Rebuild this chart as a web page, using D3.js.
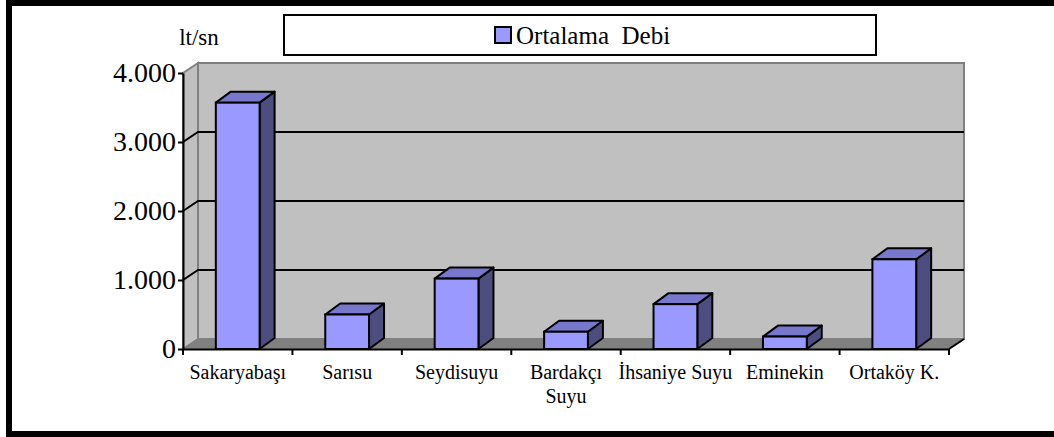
<!DOCTYPE html>
<html>
<head>
<meta charset="utf-8">
<script src="https://cdn.jsdelivr.net/npm/d3@7"></script>
<style>
  body { margin: 0; background: #fff; }
  svg text { font-family: "Liberation Serif", "DejaVu Serif", serif; fill: #000; }
</style>
</head>
<body>
<svg id="chart" width="1054" height="437"></svg>
<script>
var categories = ['Sakaryabaşı', 'Sarısu', 'Seydisuyu', 'Bardakçı\nSuyu', 'İhsaniye Suyu', 'Eminekin', 'Ortaköy K.'];
var debi = [3570, 500, 1020, 250, 650, 180, 1300];
var yTicks = [0, 1000, 2000, 3000, 4000];
var seriesName = 'Ortalama  Debi';
var unitLabel = 'lt/sn';

var svg = d3.select('#chart');

// 3d depth offsets
var wallDx = 15, wallDy = -10;
var barDx = 15, barDy = -11;

var x = d3.scaleBand()
    .domain(categories)
    .range([183, 949]);
var y = d3.scaleLinear()
    .domain([0, 4000])
    .range([349, 73]);

var fmt = d3.formatLocale({decimal: ',', thousands: '.', grouping: [3], currency: ['', '']}).format(',');

// outer frame
svg.append('rect')
    .attr('x', 9).attr('y', 3)
    .attr('width', 1080).attr('height', 431)
    .attr('fill', 'none')
    .attr('stroke', '#000')
    .attr('stroke-width', 6);

var x0 = x.range()[0], x1 = x.range()[1];
var yTop = y(4000), yBase = y(0);

// side wall
svg.append('path')
    .attr('d', 'M' + x0 + ',' + yBase + 'L' + x0 + ',' + yTop + 'L' + (x0 + wallDx) + ',' + (yTop + wallDy) +
      'L' + (x0 + wallDx) + ',' + (yBase + wallDy) + 'Z')
    .attr('fill', '#c0c0c0')
    .attr('stroke', '#808080')
    .attr('stroke-width', 2);

// back wall
svg.append('rect')
    .attr('x', x0 + wallDx).attr('y', yTop + wallDy)
    .attr('width', x1 - x0).attr('height', yBase - yTop)
    .attr('fill', '#c0c0c0')
    .attr('stroke', '#808080')
    .attr('stroke-width', 2);

// floor
svg.append('path')
    .attr('d', 'M' + x0 + ',' + yBase + 'L' + (x0 + wallDx) + ',' + (yBase + wallDy) + 'L' + (x1 + wallDx) + ',' + (yBase + wallDy) +
      'L' + x1 + ',' + yBase + 'Z')
    .attr('fill', '#808080')
    .attr('stroke', '#808080')
    .attr('stroke-width', 1);
svg.append('line')
    .attr('x1', x1).attr('y1', yBase)
    .attr('x2', x1 + wallDx).attr('y2', yBase + wallDy)
    .attr('stroke', '#000').attr('stroke-width', 2);

// gridlines (back wall + side wall diagonal)
var grid = svg.append('g');
yTicks.filter(function(t) { return t > 0 && t < 4000; }).forEach(function(t) {
  grid.append('path')
      .attr('d', 'M' + x0 + ',' + y(t) + 'L' + (x0 + wallDx) + ',' + (y(t) + wallDy) + 'L' + (x1 + wallDx) + ',' + (y(t) + wallDy))
      .attr('fill', 'none')
      .attr('stroke', '#000')
      .attr('stroke-width', 2);
});

// bars
var bars = svg.append('g').selectAll('g')
  .data(categories).enter()
  .append('g');

bars.each(function(c, i) {
  var g = d3.select(this);
  var bw = x.bandwidth() * 0.4;
  var bx = x(c) + x.bandwidth() * 0.3;
  var by = y(debi[i]);
  var b0 = y(0);
  // side
  g.append('path')
    .attr('d', 'M' + (bx + bw) + ',' + b0 + 'L' + (bx + bw) + ',' + by + 'L' + (bx + bw + barDx) + ',' + (by + barDy) +
      'L' + (bx + bw + barDx) + ',' + (b0 + barDy) + 'Z')
    .attr('fill', '#4d4d80').attr('stroke', '#000').attr('stroke-width', 2).attr('stroke-linejoin', 'round');
  // top
  g.append('path')
    .attr('d', 'M' + bx + ',' + by + 'L' + (bx + barDx) + ',' + (by + barDy) + 'L' + (bx + bw + barDx) + ',' + (by + barDy) +
      'L' + (bx + bw) + ',' + by + 'Z')
    .attr('fill', '#7777cc').attr('stroke', '#000').attr('stroke-width', 2).attr('stroke-linejoin', 'round');
  // front
  g.append('rect')
    .attr('x', bx).attr('y', by)
    .attr('width', bw).attr('height', b0 - by)
    .attr('fill', '#9999ff').attr('stroke', '#000').attr('stroke-width', 2);
});

// y axis
var yAxis = svg.append('g')
    .attr('transform', 'translate(' + x0 + ',0)')
    .call(d3.axisLeft(y).tickValues(yTicks).tickFormat(fmt).tickSize(5).tickSizeOuter(0).tickPadding(2));
yAxis.attr('font-family', null);
yAxis.select('.domain').attr('stroke', '#000').attr('stroke-width', 2);
yAxis.selectAll('.tick line').attr('stroke', '#000').attr('stroke-width', 2);
yAxis.selectAll('.tick text')
    .attr('font-size', 28)
    .attr('fill', '#000');

// x axis
var xAxis = svg.append('g')
    .attr('transform', 'translate(0,' + yBase + ')')
    .call(d3.axisBottom(x).tickSize(0).tickSizeOuter(0).tickPadding(16));
xAxis.attr('font-family', null);
xAxis.select('.domain').attr('stroke', '#000').attr('stroke-width', 2);
xAxis.selectAll('.tick text')
    .attr('font-size', 20)
    .attr('fill', '#000')
    .each(function(d) {
      var t = d3.select(this);
      var lines = d.split('\n');
      t.text(null);
      lines.forEach(function(l, k) {
        t.append('tspan').attr('x', 0).attr('dy', k === 0 ? '0.71em' : '1.2em').text(l);
      });
    });
categories.concat([null]).forEach(function(c) {
  var tx = c === null ? x1 : x(c);
  xAxis.append('line')
    .attr('x1', tx).attr('x2', tx)
    .attr('y1', 0).attr('y2', 6)
    .attr('stroke', '#000').attr('stroke-width', 2);
});

// unit label
svg.append('text')
    .attr('x', 199).attr('y', 45)
    .attr('text-anchor', 'middle')
    .attr('font-size', 23)
    .text(unitLabel);

// legend
var legend = svg.append('g');
legend.append('rect')
    .attr('x', 284).attr('y', 15)
    .attr('width', 592).attr('height', 40)
    .attr('fill', '#fff')
    .attr('stroke', '#000')
    .attr('stroke-width', 2);
legend.append('rect')
    .attr('x', 495).attr('y', 27)
    .attr('width', 16).attr('height', 16)
    .attr('fill', '#9999ff')
    .attr('stroke', '#000')
    .attr('stroke-width', 2);
legend.append('text')
    .attr('x', 516).attr('y', 44)
    .attr('font-size', 25)
    .style('white-space', 'pre')
    .text(seriesName);
</script>
</body>
</html>
